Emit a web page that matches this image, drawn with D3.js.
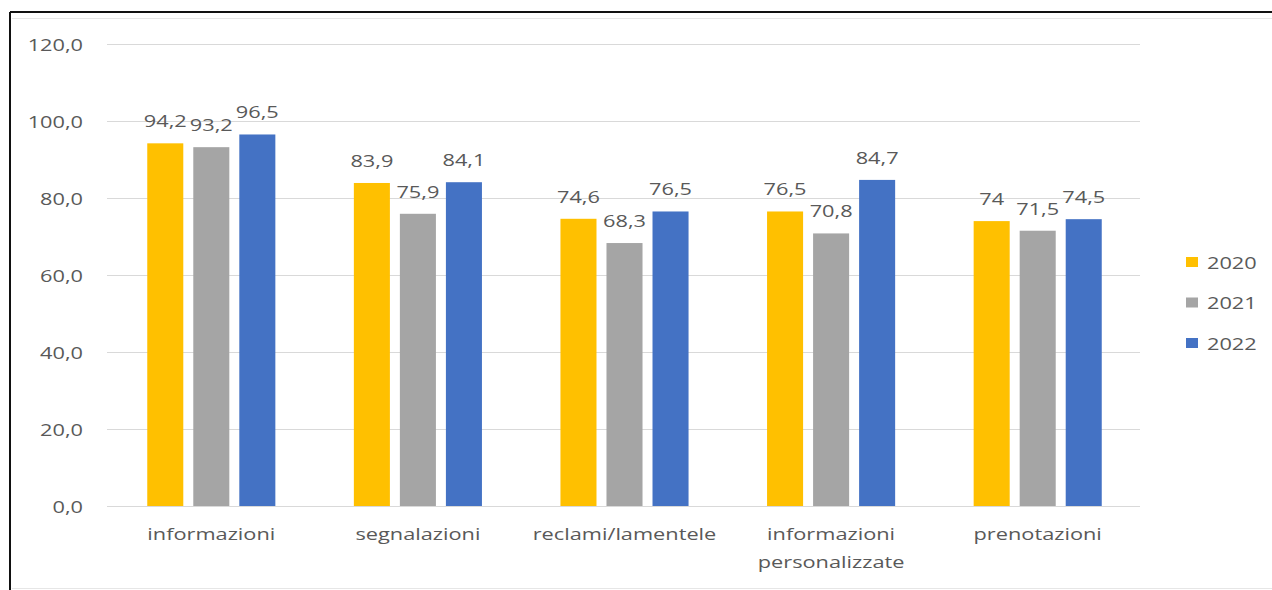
<!DOCTYPE html>
<html><head><meta charset="utf-8">
<script src="https://cdn.jsdelivr.net/npm/d3@7"></script>
<style>body{margin:0;background:#fff}svg{display:block}</style>
</head><body>
<script>
const categories = [["informazioni"],["segnalazioni"],["reclami/lamentele"],["informazioni","personalizzate"],["prenotazioni"]];
const years = ["2020","2021","2022"];
const values2020 = [94.2, 83.9, 74.6, 76.5, 74];
const values2021 = [93.2, 75.9, 68.3, 70.8, 71.5];
const values2022 = [96.5, 84.1, 76.5, 84.7, 74.5];
const yTicks = [0, 20, 40, 60, 80, 100, 120];
const colors = ["#FFC000", "#A5A5A5", "#4472C4"];

(function(){
const series = [values2020, values2021, values2022];
const W = 1272, H = 590;
const SX = 1.28;
const svg = d3.select("body").append("svg").attr("width", W).attr("height", H);

// frame
svg.append("line").attr("x1",10).attr("x2",W).attr("y1",12).attr("y2",12).attr("stroke","#111").attr("stroke-width",2);
svg.append("line").attr("x1",10).attr("x2",10).attr("y1",12).attr("y2",H).attr("stroke","#111").attr("stroke-width",2);
svg.append("line").attr("x1",12).attr("x2",W).attr("y1",18.5).attr("y2",18.5).attr("stroke","#e6e6e6").attr("stroke-width",1);
svg.append("line").attr("x1",12).attr("x2",W).attr("y1",588.5).attr("y2",588.5).attr("stroke","#e6e6e6").attr("stroke-width",1);

const pLeft = 107, pRight = 1140, pTop = 44, pBottom = 506;
const y = d3.scaleLinear().domain([0,120]).range([pBottom, pTop]);
const x0 = d3.scaleBand().domain(d3.range(categories.length)).range([pLeft, pRight]).paddingInner(0.38).paddingOuter(0.19);
const x1 = d3.scaleBand().domain(d3.range(years.length)).range([0, x0.bandwidth()]).paddingInner(0.217);

function txt(g, x, yy, s, anchor, size, baseline) {
  const t = g.append("g").attr("transform", `translate(${x},${yy}) scale(${SX},1)`)
    .append("text").text(s).attr("text-anchor", anchor || "middle")
    .attr("font-family", "'Open Sans', sans-serif").attr("font-size", size || 17)
    .attr("fill", "#595959");
  if (baseline) t.attr("dominant-baseline", baseline);
  return t;
}

// gridlines
const grid = svg.append("g");
grid.selectAll("line").data(yTicks).join("line")
  .attr("x1", pLeft).attr("x2", pRight)
  .attr("y1", d => Math.round(y(d)) + 0.5).attr("y2", d => Math.round(y(d)) + 0.5)
  .attr("stroke", "#D9D9D9").attr("stroke-width", 1);

// y tick labels
const fmt1 = d => d.toFixed(1).replace(".", ",");
yTicks.forEach(d => txt(svg, 83, y(d), fmt1(d), "end", 17, "central"));

// bars
const fmtV = d => String(d).replace(".", ",");
series.forEach((vals, si) => {
  const g = svg.append("g");
  g.selectAll("rect").data(vals).join("rect")
    .attr("x", (d, i) => x0(i) + x1(si) + 1)
    .attr("width", x1.bandwidth())
    .attr("y", d => y(d))
    .attr("height", d => y(0) - y(d))
    .attr("fill", colors[si]);
  vals.forEach((d, i) => {
    txt(svg, x0(i) + x1(si) + 1 + x1.bandwidth()/2, y(d) - 16, fmtV(d), "middle", 17);
  });
});

// category labels
categories.forEach((lines, i) => {
  lines.forEach((l, j) => {
    txt(svg, x0(i) + x0.bandwidth()/2 + 1, 533 + j*28, l, "middle", 17, "central");
  });
});

// legend
years.forEach((yr, i) => {
  const ly = 262 + i * 40.5;
  svg.append("rect").attr("x", 1186).attr("y", ly - 5).attr("width", 12).attr("height", 10).attr("fill", colors[i]);
  txt(svg, 1207, ly, yr, "start", 17, "central");
});
})();
</script>
</body></html>
